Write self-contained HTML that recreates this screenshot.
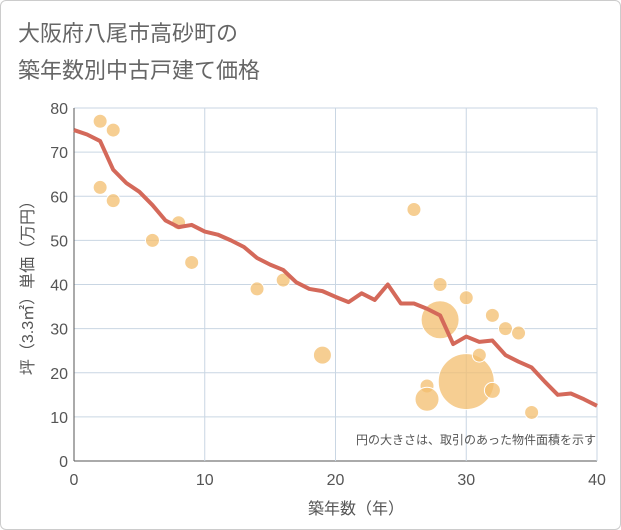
<!DOCTYPE html>
<html><head><meta charset="utf-8"><style>
body{margin:0;background:#fff;}
.wrap{width:619px;height:528px;border:1px solid #ccc;border-radius:6px;position:relative;overflow:hidden;font-family:"Liberation Sans","Noto Sans CJK JP",sans-serif;}
</style></head><body>
<div class="wrap">
<svg width="621" height="530">
<text x="17" y="40" font-size="22" fill="#666" font-family="Liberation Sans, Noto Sans CJK JP, sans-serif">大阪府八尾市高砂町の</text>
<text x="17" y="77" font-size="22" fill="#666" font-family="Liberation Sans, Noto Sans CJK JP, sans-serif">築年数別中古戸建て価格</text>
<g id="grid"></g><g id="axes"></g><g id="bubbles"></g><g id="line"></g>
<text x="595" y="443" font-size="12" fill="#555" text-anchor="end" font-family="Liberation Sans, Noto Sans CJK JP, sans-serif">円の大きさは、取引のあった物件面積を示す</text>
<text x="355" y="513" font-size="16" fill="#555" text-anchor="middle" font-family="Liberation Sans, Noto Sans CJK JP, sans-serif">築年数（年）</text>
<text transform="translate(32,283) rotate(-90)" font-size="16" fill="#555" text-anchor="middle" font-family="Liberation Sans, Noto Sans CJK JP, sans-serif">坪（3.3㎡）単価（万円）</text>
</svg></div>
<script>
const lineX=[0,1,2,3,4,5,6,7,8,9,10,11,12,13,14,15,16,17,18,19,20,21,22,23,24,25,26,27,28,29,30,31,32,33,34,35,36,37,38,39,40];
const lineY=[75,74,72.5,66,63,61,58,54.5,53,53.5,52,51.3,50,48.5,46,44.5,43.3,40.5,39,38.5,37.2,36,38,36.5,40,35.7,35.7,34.5,33,26.5,28.2,27,27.3,24,22.5,21.2,18,15,15.3,14,12.5];
const bubX=[2,3,2,3,6,8,9,14,16,19,26,28,28,30,30,31,32,32,33,34,27,27,35];
const bubY=[77,75,62,59,50,54,45,39,41,24,57,40,32,37,18,24,33,16,30,29,17,14,11];
const bubR=[7,7,7,7,7,7,7,7,7,9,7,7,19,7,28,7,7,8,7,7,7,12,7];
const xTicks=[0,10,20,30,40];
const yTicks=[0,10,20,30,40,50,60,70,80];
const X0=73,X1=596,Y0=460,Y1=107;
const sx=v=>X0+(v-0)/40*(X1-X0);
const sy=v=>Y0-(v/80)*(Y0-Y1);
const NS="http://www.w3.org/2000/svg";
function mk(t,a,p){const e=document.createElementNS(NS,t);for(const k in a)e.setAttribute(k,a[k]);p.appendChild(e);return e;}
const g=document.getElementById('grid'),ax=document.getElementById('axes');
yTicks.forEach(v=>{
 const l=mk('line',{x1:X0,x2:X1,y1:sy(v),y2:sy(v),stroke:v===0?'#555':'#c9d6e3','stroke-width':1},g);
 
 
 const t=mk('text',{x:X0-6,y:sy(v)+6,'font-size':16,fill:'#555','text-anchor':'end'},ax);t.textContent=v;
 
 
});
xTicks.forEach(v=>{
 const l=mk('line',{x1:sx(v),x2:sx(v),y1:Y1,y2:Y0,stroke:v===0?'#555':'#c9d6e3','stroke-width':1},g);
 
 
 const t=mk('text',{x:sx(v),y:Y0+24,'font-size':16,fill:'#555','text-anchor':'middle'},ax);t.textContent=v;
 
 
});
const bg=document.getElementById('bubbles');
bubX.forEach((x,i)=>{
 const c=mk('circle',{cx:sx(x),cy:sy(bubY[i]),r:bubR[i],fill:'rgba(243,190,110,0.75)',stroke:'#fff','stroke-width':1},bg);
 
 
});
const p=mk('polyline',{points:lineX.map((x,i)=>sx(x)+','+sy(lineY[i])).join(' '),fill:'none',stroke:'#d4695a','stroke-width':4,'stroke-linejoin':'round'},document.getElementById('line'));


</script>
</body></html>
